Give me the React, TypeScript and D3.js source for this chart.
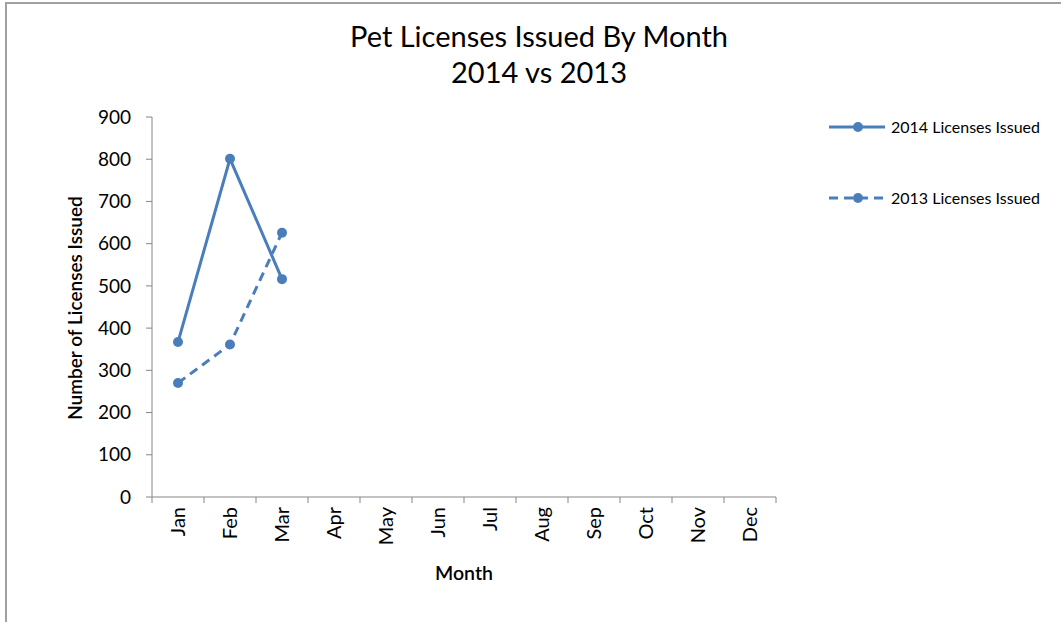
import React from "react";
import * as d3 from "d3";

const months = ["Jan", "Feb", "Mar", "Apr", "May", "Jun", "Jul", "Aug", "Sep", "Oct", "Nov", "Dec"];
const licenses2014 = [367, 801, 516];
const licenses2013 = [270, 361, 626];
const yTicks = [0, 100, 200, 300, 400, 500, 600, 700, 800, 900];
const seriesNames = ["2014 Licenses Issued", "2013 Licenses Issued"];

const W = 1061, H = 622;
const color = "#4a7ebb";
const font = "Lato, 'Open Sans', sans-serif";

export default function App() {
  const left = 152, right = 776, top = 117, bottom = 497;
  const x = d3.scaleBand<string>().domain(months).range([left, right]);
  const y = d3.scaleLinear().domain([0, 900]).range([bottom, top]);
  const cx = (m: string) => (x(m) as number) + x.bandwidth() / 2;
  const line = d3.line<number>().x((_, i) => cx(months[i])).y((d) => y(d));
  const series = [
    { name: seriesNames[0], values: licenses2014, dash: undefined as string | undefined },
    { name: seriesNames[1], values: licenses2013, dash: "9,6" },
  ];
  const tickXs = d3.range(months.length + 1).map((i) => left + i * x.step());
  return (
    <svg width={W} height={H} style={{ position: "fixed", left: 0, top: 0, background: "#fff" }} fontFamily={font}>
      <rect x={6} y={3} width={W + 10} height={H + 10} fill="#fff" stroke="#a0a0a0" strokeWidth={2} />
      <text x={539} y={47} textAnchor="middle" fontSize={29} fill="#000">Pet Licenses Issued By Month</text>
      <text x={539} y={83} textAnchor="middle" fontSize={29} fill="#000">2014 vs 2013</text>
      {/* y axis */}
      <line x1={left} x2={left} y1={top} y2={bottom} stroke="#868686" strokeWidth={1} />
      {yTicks.map((t) => (
        <g key={t}>
          <line x1={left - 6} x2={left} y1={y(t)} y2={y(t)} stroke="#868686" />
          <text x={131} y={y(t)} dy="0.35em" textAnchor="end" fontSize={19} fill="#000">{t}</text>
        </g>
      ))}
      <text transform={`translate(82,${308}) rotate(-90)`} textAnchor="middle" fontSize={19} fontWeight={600} fill="#000">Number of Licenses Issued</text>
      {/* x axis */}
      <line x1={left} x2={right} y1={bottom} y2={bottom} stroke="#868686" />
      {tickXs.map((tx, i) => (
        <line key={i} x1={tx} x2={tx} y1={bottom} y2={bottom + 6} stroke="#868686" />
      ))}
      {months.map((m) => (
        <text key={m} transform={`translate(${cx(m)},${507}) rotate(-90)`} textAnchor="end" dy="0.35em" fontSize={20} fill="#000">{m}</text>
      ))}
      <text x={464} y={580} textAnchor="middle" fontSize={19.5} fontWeight={600} fill="#000">Month</text>
      {/* series */}
      {series.map((s) => (
        <g key={s.name}>
          <path d={line(s.values) as string} fill="none" stroke={color} strokeWidth={3} strokeDasharray={s.dash} />
          {s.values.map((v, i) => (
            <circle key={i} cx={cx(months[i])} cy={y(v)} r={5} fill={color} />
          ))}
        </g>
      ))}
      {/* legend */}
      {series.map((s, i) => {
        const ly = 127 + i * 71;
        return (
          <g key={s.name}>
            <line x1={829} x2={885} y1={ly} y2={ly} stroke={color} strokeWidth={3} strokeDasharray={s.dash} />
            <circle cx={858} cy={ly} r={5} fill={color} />
            <text x={891} y={ly} dy="0.35em" fontSize={16} fill="#000">{s.name}</text>
          </g>
        );
      })}
    </svg>
  );
}
